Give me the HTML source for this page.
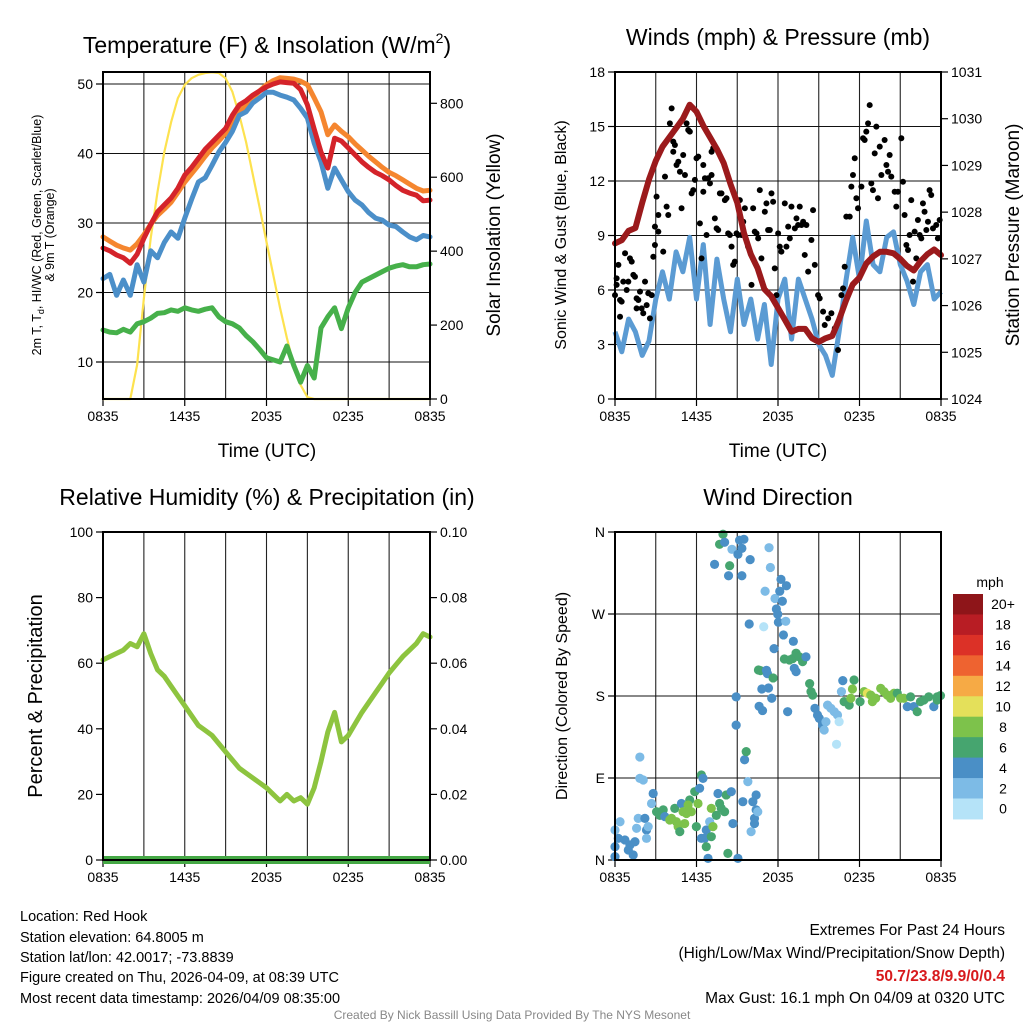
<!DOCTYPE html>
<html><head><meta charset="utf-8">
<style>
html,body{margin:0;padding:0;background:#fff;}
svg{display:block;font-family:"Liberation Sans",Arial,sans-serif;}
</style></head>
<body>
<svg id="fig" width="1024" height="1024" viewBox="0 0 1024 1024" xmlns="http://www.w3.org/2000/svg">
<rect width="1024" height="1024" fill="#fff"/>
<g id="p1"></g>
<g id="p2"></g>
<g id="p3"></g>
<g id="p4"></g>
<g font-size="23" text-anchor="middle" fill="#000">
<text x="267" y="53">Temperature (F) &amp; Insolation (W/m<tspan font-size="14" dy="-10">2</tspan><tspan dy="10">)</tspan></text>
<text x="778" y="45">Winds (mph) &amp; Pressure (mb)</text>
<text x="267" y="505">Relative Humidity (%) &amp; Precipitation (in)</text>
<text x="778" y="505">Wind Direction</text>
</g>
<g fill="#000" text-anchor="middle">
<text x="267" y="457" font-size="19">Time (UTC)</text>
<text x="778" y="457" font-size="19">Time (UTC)</text>
<text transform="translate(41,235) rotate(-90)" font-size="12.5">2m T, T<tspan font-size="9" dy="3">d</tspan><tspan dy="-3">, HI/WC (Red, Green, Scarlet/Blue)</tspan></text>
<text transform="translate(54,235) rotate(-90)" font-size="12.5">&amp; 9m T (Orange)</text>
<text transform="translate(500,235) rotate(-90)" font-size="19">Solar Insolation (Yellow)</text>
<text transform="translate(566,235) rotate(-90)" font-size="16">Sonic Wind &amp; Gust (Blue, Black)</text>
<text transform="translate(1019,235) rotate(-90)" font-size="19">Station Pressure (Maroon)</text>
<text transform="translate(42,696) rotate(-90)" font-size="20">Percent &amp; Precipitation</text>
<text transform="translate(567,696) rotate(-90)" font-size="16">Direction (Colored By Speed)</text>
</g>
<g font-size="14.5" fill="#000">
<text x="20" y="921">Location: Red Hook</text>
<text x="20" y="942">Station elevation: 64.8005 m</text>
<text x="20" y="962">Station lat/lon: 42.0017; -73.8839</text>
<text x="20" y="982">Figure created on Thu, 2026-04-09, at 08:39 UTC</text>
<text x="20" y="1003">Most recent data timestamp: 2026/04/09 08:35:00</text>
</g>
<g font-size="15.5" fill="#000" text-anchor="end">
<text x="1005" y="935">Extremes For Past 24 Hours</text>
<text x="1005" y="958">(High/Low/Max Wind/Precipitation/Snow Depth)</text>
<text x="1005" y="981" fill="#d7191c" font-weight="bold">50.7/23.8/9.9/0/0.4</text>
<text x="1005" y="1003">Max Gust: 16.1 mph On 04/09 at 0320 UTC</text>
</g>
<text x="512" y="1019" font-size="12" fill="#888" text-anchor="middle">Created By Nick Bassill Using Data Provided By The NYS Mesonet</text>
</svg>
<script>
// ---------- data (half-hour steps, 0835 -> 0835) ----------
const timeLabels = ["0835","1435","2035","0235","0835"];
const tempRed = [26.4,26,25.4,25,24.2,25.5,27.8,29.8,31.6,32.6,33.6,35,36.9,38,39.3,40.6,41.6,42.6,43.6,45.5,47,47.6,48.4,49,49.6,50,50.3,50.2,50.1,49.2,47,43.5,40.2,37.9,42.2,41.8,40.8,39.8,38.8,38,37.3,36.8,36.2,35.4,34.7,34.3,34,33.2,33.3];
const temp9m = [28,27.4,26.8,26.4,26.1,27,28.3,29.8,31.1,32,33,34.4,35.9,37.1,38.3,39.6,40.8,41.8,42.9,44.5,46,47,48,49,49.9,50.5,50.9,50.8,50.7,50.4,49.9,48,46,42.7,44.1,43.2,42.4,41.4,40.5,39.6,38.8,38,37.3,36.8,36.2,35.6,35,34.6,34.7];
const tempBlue = [22,22.6,19.6,21.8,19.6,24,21.5,26,25,27.2,28.7,27.8,30.7,33.4,35.9,36.5,38.3,40.2,41.6,43.2,45.5,46,47.3,48,48.8,48.8,48.4,48.1,47.7,46.5,45.1,41.5,38.8,35,37.9,36.2,34.5,33.3,32.6,31.5,30.7,30.4,29.7,29.5,28.7,28,27.6,28.2,28];
const dewGreen = [14.6,14.3,14.2,14.7,14.3,15.5,15.8,16.3,17,17.1,17.5,17.3,17.8,17.5,17.3,17.6,17.8,16.5,15.8,15.5,14.9,13.8,12.9,11.8,10.6,10.3,10,12.3,9.5,7.1,9.5,7.7,14.9,16.5,17.8,14.8,17.8,20,21.5,22,22.5,23,23.5,23.8,24,23.7,23.7,24,24.1];
const insolation = [0,0,0,0,0,92,273,435,560,668,749,814,850,868,877,882,884,882,868,831,768,695,606,517,425,335,246,165,92,38,5,0,0,0,0,0,0,0,0,0,0,0,0,0,0,0,0,0,0];
const windSpeed = [3.7,2.6,4.4,3.7,2.4,3.2,5.5,7.0,5.5,8.1,7.0,8.9,5.5,8.5,4.1,7.7,5.5,3.7,6.6,4.1,5.5,3.3,5.2,1.9,5.5,6.6,3.3,6.6,5.5,4.4,3.0,2.4,1.3,3.7,6.5,8.9,6.6,9.8,7.4,7.0,8.9,9.2,7.4,6.5,5.2,7.0,7.4,5.5,5.9];
const pressure = [1027.33,1027.4,1027.6,1027.66,1028.2,1028.7,1029.1,1029.4,1029.6,1029.8,1030.0,1030.3,1030.15,1029.85,1029.6,1029.35,1029.05,1028.6,1028.2,1027.55,1027.1,1026.8,1026.35,1026.2,1025.95,1025.7,1025.44,1025.5,1025.5,1025.3,1025.22,1025.3,1025.35,1025.7,1026.1,1026.45,1026.6,1026.9,1027.05,1027.15,1027.15,1027.12,1027.0,1026.85,1026.75,1026.95,1027.1,1027.2,1027.08];
const humidity = [61,62,63,64,66,65,69,63,58,56,53,50,47,44,41,39.5,38,35.5,33,30.5,28,26.5,25,23.5,22,20,18,20,18,19,17,22,30,39,45,36,38,41.5,45,48,51,54,57,59.5,62,64,66,69,68];
const precip = [0,0,0,0,0,0,0,0,0,0,0,0,0,0,0,0,0,0,0,0,0,0,0,0,0,0,0,0,0,0,0,0,0,0,0,0,0,0,0,0,0,0,0,0,0,0,0,0,0];
// gusts: hours since 0835, mph
const gustHours = [0,.12,.25,.12,.37,.49,.37,.74,.86,.61,.98,1.1,1.23,1.35,1.47,1.59,1.59,1.72,1.84,1.96,2.08,2.21,2.33,2.45,2.57,2.7,2.82,2.94,2.94,3.06,3.19,3.19,3.55,3.68,3.8,3.92,4.04,4.17,4.29,4.29,4.41,4.53,4.66,4.78,4.9,5.02,5.15,5.27,5.39,5.51,5.64,5.76,5.88,6.0,6.13,6.25,6.37,6.5,6.5,6.62,6.74,6.86,6.99,7.11,7.11,7.23,7.35,7.48,7.6,7.72,7.84,8.09,8.21,8.33,8.46,8.58,8.7,8.82,8.95,9.07,9.19,9.31,9.44,9.56,9.8,10.05,10.17,10.29,10.42,10.54,10.66,10.78,11.03,11.15,11.27,11.4,11.52,11.64,11.76,11.89,12.01,12.13,12.25,12.5,12.62,12.75,12.87,12.99,13.24,13.36,13.48,13.6,13.73,13.85,13.97,14.09,14.22,14.46,14.58,14.71,14.95,15.07,15.32,15.44,15.69,15.93,16.18,16.42,16.67,16.79,16.91,17.03,17.28,17.4,17.52,17.65,17.77,17.89,18.14,18.26,18.38,18.5,18.63,18.75,18.87,18.99,19.12,19.24,19.36,19.49,19.61,19.85,19.98,20.1,20.22,20.34,20.59,20.71,20.83,21.08,21.2,21.32,21.45,21.57,21.69,21.81,21.94,22.06,22.18,22.3,22.43,22.55,22.67,22.79,22.92,23.04,23.16,23.28,23.41,23.65,23.77,23.9];
const gustMph = [5.72,6.64,7.38,6.28,5.45,5.36,4.53,8.02,6.0,6.46,6.46,7.74,7.56,6.83,6.73,5.54,4.99,5.45,5.91,4.99,4.72,6.46,5.17,5.82,4.44,5.72,7.83,8.48,9.49,11.14,10.13,9.21,8.11,12.24,10.59,10.13,15.17,16.0,14.17,13.61,13.98,12.88,13.06,12.51,10.5,13.43,12.33,15.17,14.81,14.72,11.32,11.5,12.06,13.25,13.34,9.67,7.74,12.88,11.41,12.15,9.03,12.15,11.87,13.61,12.33,13.8,9.94,9.39,9.3,11.32,11.32,10.95,11.05,9.12,9.03,8.39,7.38,7.56,9.12,9.03,10.95,9.03,9.76,10.5,8.39,6.28,10.5,9.21,9.12,8.84,11.5,7.74,10.31,10.77,9.3,9.3,11.32,10.86,7.19,5.72,9.12,8.39,8.11,10.77,8.39,9.49,8.84,10.59,9.39,9.94,9.58,10.59,9.58,9.76,7.93,9.58,7.01,8.75,10.4,7.38,5.72,5.54,4.81,4.07,4.44,4.72,3.89,2.7,5.72,6.09,7.28,10.04,10.04,11.69,12.33,13.25,11.05,10.5,11.69,14.35,14.26,14.72,15.17,16.18,11.87,11.5,13.52,14.99,11.05,13.89,12.33,14.26,12.88,12.51,13.43,12.24,11.41,10.59,11.41,14.35,11.96,10.13,8.48,8.2,9.03,10.95,6.46,9.21,7.74,9.85,9.03,8.84,10.77,10.31,9.3,9.76,11.5,11.23,9.39,9.58,8.84,9.85];
// wind direction: hours since 0835, degrees, speed mph
const dirHours = [0,.24,0,.37,0,.73,.98,1.34,1.47,1.1,1.71,1.59,1.83,1.83,2.08,2.2,2.32,2.32,2.44,2.69,2.81,3.06,3.3,3.55,3.67,4.03,4.16,4.4,4.52,4.65,4.77,4.89,5.01,5.13,5.26,5.5,5.38,5.62,5.87,5.99,6.11,6.23,6.36,6.48,6.36,6.6,6.72,6.72,6.85,6.97,7.09,7.09,7.21,7.46,7.58,7.7,7.82,8.07,8.19,8.31,8.56,8.68,8.92,8.92,9.05,9.41,9.54,9.66,9.78,10.02,10.15,10.27,10.39,10.39,10.51,10.27,7.95,7.7,8.07,7.33,8.44,8.36,8.61,9.05,9.17,9.34,9.49,9.34,9.95,9.88,10.95,11.34,11.44,11.05,11.78,11.88,11.98,12.03,12.13,12.22,12.32,12.62,12.57,12.4,13.13,11.71,12.47,12.84,13.08,13.33,13.57,13.81,14.06,13.2,13.33,10.56,10.71,11.15,11.22,11.64,10.81,11.3,11.54,10.61,10.86,12.71,14.33,14.43,14.55,14.72,14.91,15.04,15.28,15.4,15.53,15.65,15.89,16.14,16.38,16.5,16.31,16.67,16.77,16.87,17.24,17.36,17.48,17.6,18.04,18.34,18.58,18.83,18.95,19.19,19.56,19.8,20.05,20.29,20.54,20.78,21.03,21.27,21.52,21.76,22.0,22.25,22.49,22.74,23.1,23.47,23.72,23.96,23.72];
const dirDeg = [3.7,23.8,14.6,42,32.9,22,11,5.5,20,16.5,45.7,34.8,113,89.6,87.8,45.7,32.9,23.8,36.6,62,73,53,49,55,47.6,43.9,45.7,56.7,42,36.6,31.1,62,53,40,51,65.9,60.4,53,75,36.6,62,78.7,93.3,89.6,23.8,23.8,32.9,14.6,1.8,42,25.6,56.7,36.6,49,73,62,56.7,53,71.4,7.3,75,40,148,179,1.8,64,110,119,86,31.1,64,45.7,71.4,55,53,40,357.5,346.5,348.7,324.5,323,312,341,335.5,351,342,352,312,329.7,259,256,342.8,321,295,287,275.5,269.7,261,295,308,284,301,262,247,240,232,220.6,219.5,221,227,223,217.7,223,210.4,206.7,208.6,207.8,208.2,204.5,199.8,187.7,188.8,177.5,168.7,164,162.8,193.6,184.8,181,166.5,159.2,155.5,148,142.7,151.8,170,166.5,162.8,159.2,151.8,127,184.8,196.9,173.8,170,177.5,187.7,197.6,173.8,184.8,183,181,173.8,177.5,188.4,184.8,181,177.5,183,183,177.5,177.5,168.3,179,168.3,162.8,173.8,175.6,179,168.3,179,180.4,175.6];
const dirSpeed = [4,4,4,2,2,4,4,4,4,4,2,2,2,2,2,4,4,2,2,2,4,6,6,6,4,8,8,6,8,8,6,4,8,8,8,6,8,8,6,6,8,4,6,4,4,4,4,6,4,2,6,8,8,6,4,6,6,6,6,6,4,4,4,4,4,4,4,6,2,2,4,4,4,4,2,4,6,6,4,4,6,4,2,4,4,4,4,4,4,4,0,2,2,2,2,4,4,4,4,4,4,4,2,4,4,4,6,6,6,6,6,6,4,4,4,6,6,4,4,6,4,4,4,4,4,4,6,6,6,4,4,4,4,2,2,2,2,2,2,0,0,2,4,6,6,8,8,6,6,8,10,8,8,8,8,8,8,8,8,6,8,8,4,6,4,6,6,6,6,4,6,6,6];
const speedLabels = ["0","2","4","6","8","10","12","14","16","18","20+"];
const speedColors = ["#b5e3f8","#7dbbe6","#4a8fc6","#46a56f","#7dc24b","#e4e05a","#f6aa45","#ee6330","#dc3127","#b81d24","#8e1519"];

// ---------- helpers ----------
const NS="http://www.w3.org/2000/svg";
function mk(parent,tag,attrs){const e=document.createElementNS(NS,tag);for(const k in attrs)e.setAttribute(k,attrs[k]);parent.appendChild(e);return e;}
function scale(d0,d1,r0,r1){return v=>r0+(v-d0)*(r1-r0)/(d1-d0);}
function pathFrom(vals,xs,ys){return vals.map((v,i)=>(i?"L":"M")+xs(i/2).toFixed(1)+","+ys(v).toFixed(1)).join("");}

function frame(g,L,T,R,B,name){
  // vertical grid every 3 h
  const xs=scale(0,24,L,R);
  for(let h=3;h<24;h+=3){
    const ln=mk(g,"line",{x1:xs(h),x2:xs(h),y1:T,y2:B,stroke:"#222","stroke-width":1.1});
    
    
  }
  for(let i=0;i<5;i++){
    const h=i*6,x=xs(h);
    const tk=mk(g,"line",{x1:x,x2:x,y1:B,y2:B+7,stroke:"#000","stroke-width":1.2});
    
    
    const t=mk(g,"text",{x:x,y:B+22,"font-size":14,"text-anchor":"middle"});
    t.textContent=timeLabels[i];
    
    
  }
  return xs;
}
function border(g,L,T,R,B){
  const r=mk(g,"rect",{x:L,y:T,width:R-L,height:B-T,fill:"none",stroke:"#000","stroke-width":2});
  
  
}
function yTicks(g,vals,labels,ys,x,side,grid,L,R){
  vals.forEach((v,i)=>{
    const y=ys(v);
    if(grid){const gl=mk(g,"line",{x1:L,x2:R,y1:y,y2:y,stroke:"#111","stroke-width":1.1});
      
      }
    const tk=mk(g,"line",{x1:x,x2:x+(side<0?-7:7),y1:y,y2:y,stroke:"#000","stroke-width":1.2});
    
    
    const t=mk(g,"text",{x:x+(side<0?-10:10),y:y+5,"font-size":14,"text-anchor":side<0?"end":"start"});
    t.textContent=labels[i];
    
    
  });
}

// ---------- Panel 1 ----------
(function(){
  const g=document.getElementById("p1");
  const L=103,T=72,R=430,B=399;
  const xs=frame(g,L,T,R,B);
  const ys=scale(10,50,362,84);
  const yi=scale(0,800,399,103.3);
  yTicks(g,[10,20,30,40,50],["10","20","30","40","50"],ys,L,-1,true,L,R);
  yTicks(g,[0,200,400,600,800],["0","200","400","600","800"],yi,R,1,false,L,R);
  const series=[[insolation,yi,"#fde24f",2.2,"insolation-line"],[dewGreen,ys,"#46b04a",5,"dewpoint-line"],[temp9m,ys,"#f5862f",5,"temp-9m-line"],[tempBlue,ys,"#4b8fc9",5,"windchill-line"],[tempRed,ys,"#d4232a",5,"temp-2m-line"]];
  series.forEach(s=>{
    const p=mk(g,"path",{d:pathFrom(s[0],xs,s[1]),fill:"none",stroke:s[2],"stroke-width":s[3],"stroke-linejoin":"round","stroke-linecap":"round"});
    
    
  });
  border(g,L,T,R,B);
})();

// ---------- Panel 2 ----------
(function(){
  const g=document.getElementById("p2");
  const L=615,T=72,R=941,B=399;
  const xs=frame(g,L,T,R,B);
  const ys=scale(0,18,399,72);
  const yp=scale(1024,1031,399,72);
  yTicks(g,[0,3,6,9,12,15,18],["0","3","6","9","12","15","18"],ys,L,-1,true,L,R);
  yTicks(g,[1024,1025,1026,1027,1028,1029,1030,1031],["1024","1025","1026","1027","1028","1029","1030","1031"],yp,R,1,false,L,R);
  const w=mk(g,"path",{d:pathFrom(windSpeed,xs,ys),fill:"none",stroke:"#5b9bd3","stroke-width":5,"stroke-linejoin":"round"});
  
  
  gustHours.forEach((h,i)=>{
    const c=mk(g,"circle",{cx:xs(h),cy:ys(gustMph[i]),r:3,fill:"#000"});
    
    
  });
  const p=mk(g,"path",{d:pathFrom(pressure,xs,yp),fill:"none",stroke:"#9b1a1c","stroke-width":6,"stroke-linejoin":"round","stroke-linecap":"round"});
  
  
  border(g,L,T,R,B);
})();

// ---------- Panel 3 ----------
(function(){
  const g=document.getElementById("p3");
  const L=103,T=532,R=430,B=860;
  const xs=frame(g,L,T,R,B);
  const ys=scale(0,100,860,532);
  const yr=scale(0,0.1,860,532);
  yTicks(g,[0,20,40,60,80,100],["0","20","40","60","80","100"],ys,L,-1,false,L,R);
  yTicks(g,[0,0.02,0.04,0.06,0.08,0.10],["0.00","0.02","0.04","0.06","0.08","0.10"],yr,R,1,false,L,R);
  const h=mk(g,"path",{d:pathFrom(humidity,xs,ys),fill:"none",stroke:"#8dc43f","stroke-width":5,"stroke-linejoin":"round","stroke-linecap":"round"});
  
  
  const pr=mk(g,"path",{d:pathFrom(precip,xs,yr),fill:"none",stroke:"#45a845","stroke-width":8});
  
  
  border(g,L,T,R,B);
})();

// ---------- Panel 4 ----------
(function(){
  const g=document.getElementById("p4");
  const L=615,T=532,R=941,B=860;
  const xs=frame(g,L,T,R,B);
  const ys=scale(0,360,860,532);
  yTicks(g,[0,90,180,270,360],["N","E","S","W","N"],ys,L,-1,true,L,R);
  dirHours.forEach((h,i)=>{
    const idx=Math.min(10,Math.round(dirSpeed[i]/2));
    const c=mk(g,"circle",{cx:xs(h),cy:ys(dirDeg[i]),r:4.6,fill:speedColors[idx]});
    
    
  });
  border(g,L,T,R,B);
  // colorbar
  const cb=mk(g,"g",{});
  
  
  const t0=mk(cb,"text",{x:990,y:587,"font-size":14,"text-anchor":"middle"});
  t0.textContent="mph";
  
  
  const top=594,bh=20.45;
  for(let k=0;k<11;k++){
    const idx=10-k,y=top+k*bh;
    const r=mk(cb,"rect",{x:953,y:y,width:30,height:bh+0.5,fill:speedColors[idx]});
    
    
    const t=mk(cb,"text",{x:1003,y:y+bh/2+5,"font-size":14,"text-anchor":"middle"});
    t.textContent=speedLabels[idx];
    
    
  }
})();
</script>
</body></html>
